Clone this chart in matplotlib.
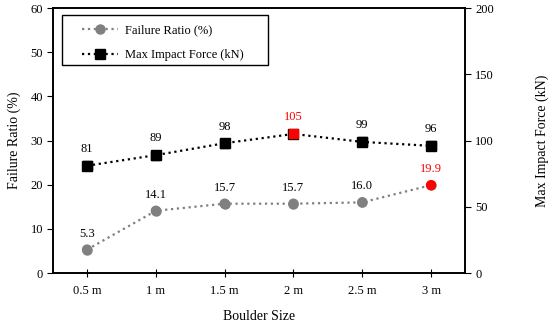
import matplotlib.pyplot as plt
from matplotlib.patches import Rectangle

plt.rcParams['font.family'] = ['Liberation Serif', 'DejaVu Serif']

sizes = ['0.5 m', '1 m', '1.5 m', '2 m', '2.5 m', '3 m']
failure_ratio = [5.3, 14.1, 15.7, 15.7, 16.0, 19.9]
impact_force = [81, 89, 98, 105, 99, 96]
ratio_labels = ['5.3', '14.1', '15.7', '15.7', '16.0', '19.9']
force_labels = ['81', '89', '98', '105', '99', '96']

x = list(range(len(sizes)))
ratio_colors = ['#808080'] * 5 + ['red']
ratio_text_colors = ['black'] * 5 + ['red']
force_colors = ['black', 'black', 'black', 'red', 'black', 'black']

fig, ax = plt.subplots(figsize=(5.5, 3.25), dpi=100)
fig.subplots_adjust(left=0.097, right=0.845, top=0.975, bottom=0.16)
ax2 = ax.twinx()

l1, = ax.plot(x, failure_ratio, color='#808080', linestyle=':', linewidth=1.6,
              marker='o', markersize=6.5, label='Failure Ratio (%)')
ax.scatter(x, failure_ratio, c=ratio_colors, s=42, zorder=3)
for xi, yi, t, c in zip(x, failure_ratio, ratio_labels, ratio_text_colors):
    ax.annotate(t, (xi, yi), xytext=(0, 11.5), textcoords='offset points',
                ha='center', va='center', fontsize=9, color=c)

l2, = ax2.plot(x, impact_force, color='black', linestyle=':', linewidth=1.6,
               marker='s', markersize=6.5, label='Max Impact Force (kN)')
ax2.scatter(x, impact_force, c=force_colors, marker='s', s=42, zorder=3)
for xi, yi, t, c in zip(x, impact_force, force_labels, force_colors):
    ax2.annotate(t, (xi, yi), xytext=(0, 12), textcoords='offset points',
                 ha='center', va='center', fontsize=9, color=c)

ax.set_xlim(-0.49, 5.49)
ax.set_ylim(0, 60)
ax2.set_ylim(0, 200)
ax.set_xticks(x)
ax.set_xticklabels(sizes)
ax.set_yticks(range(0, 61, 10))
ax2.set_yticks(range(0, 201, 50))
ax.tick_params(axis='x', direction='inout', length=6, labelsize=9, pad=6)
ax.tick_params(axis='y', direction='out', length=4, labelsize=9)
ax2.tick_params(axis='y', direction='out', length=4, labelsize=9)

ax.set_xlabel('Boulder Size', fontsize=10, labelpad=9)
ax.set_ylabel('Failure Ratio (%)', fontsize=10, labelpad=7)
ax2.set_ylabel('Max Impact Force (kN)', fontsize=10, labelpad=30)

for a in (ax, ax2):
    for s in a.spines.values():
        s.set_linewidth(1.2)

# legend box drawn separately so that it can be wider than the entries
ax2.add_patch(Rectangle((0.022, 0.785), 0.50, 0.189, transform=ax2.transAxes,
                        facecolor='white', edgecolor='black', linewidth=1.0,
                        zorder=4))
leg = ax2.legend(handles=[l1, l2], loc='upper left', bbox_to_anchor=(0.07, 0.938),
                 borderaxespad=0, borderpad=0, fontsize=9, frameon=False,
                 labelspacing=1.0, handlelength=2.9, handletextpad=0.5)
leg.set_zorder(5)

plt.savefig('out.png', dpi=100)
